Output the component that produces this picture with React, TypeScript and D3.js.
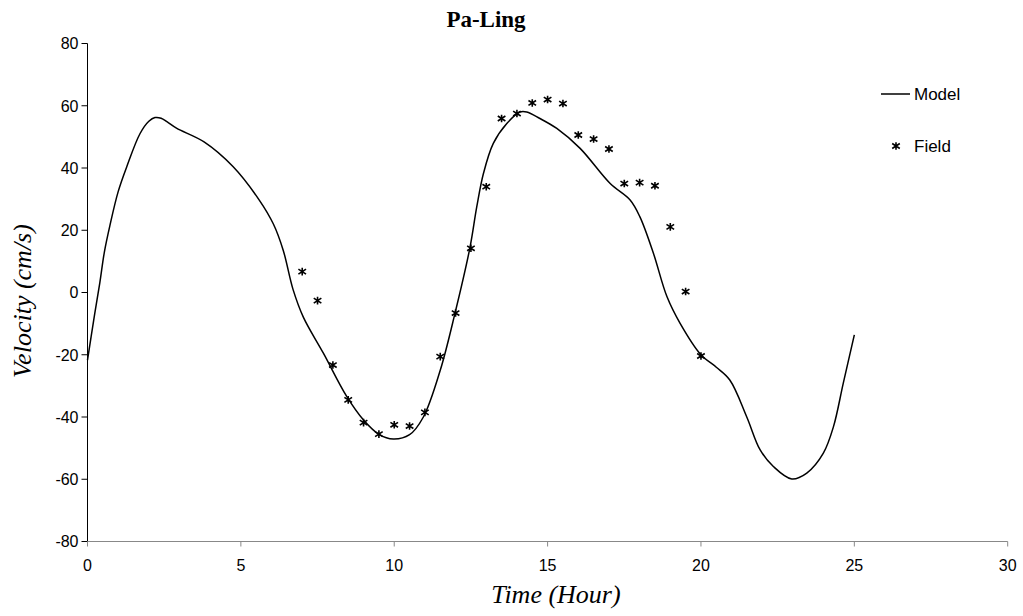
import React from "react";
import * as d3 from "d3";

const modelHours = [0, 0.2, 0.4, 0.55, 0.73, 1.0, 1.28, 1.71, 2.0, 2.2, 2.4, 2.6, 2.9, 3.8, 4.75, 5.6, 6.06, 6.38, 6.7, 7.04, 7.69, 8.45, 9.0, 9.5, 9.97, 10.5, 10.95, 11.5, 11.98, 12.47, 12.69, 12.91, 13.23, 13.67, 14.1, 14.32, 14.75, 15.3, 16.06, 17.04, 17.69, 18.01, 18.45, 18.89, 19.32, 20.0, 20.5, 20.94, 21.49, 21.93, 22.36, 22.96, 23.45, 23.99, 24.32, 24.64, 25.0];
const modelVelocity = [-21.7, -9, 3, 13, 21.5, 32.4, 40.4, 51, 55, 56.2, 56, 54.8, 52.8, 48.4, 40.4, 29.7, 22, 13.6, 1, -8, -19.5, -33.4, -41, -45.6, -47.1, -45.7, -40, -25, -6.7, 14.5, 27.5, 38.3, 47.9, 54.3, 58, 58, 55.9, 52.7, 46.3, 35, 29.7, 24.3, 12.6, -1.3, -9.9, -20, -24, -28.1, -39.9, -50.6, -55.9, -59.9, -58, -51.6, -43.1, -29.1, -13.6];

const fieldHours = [7, 7.5, 8, 8.5, 9, 9.5, 10, 10.5, 11, 11.5, 12, 12.5, 13, 13.5, 14, 14.5, 15, 15.5, 16, 16.5, 17, 17.5, 18, 18.5, 19, 19.5, 20];
const fieldVelocity = [6.7, -2.6, -23.3, -34.5, -41.8, -45.5, -42.5, -42.9, -38.5, -20.6, -6.6, 14.2, 34, 55.9, 57.5, 60.9, 62, 60.7, 50.6, 49.3, 46.1, 35, 35.3, 34.3, 21.1, 0.3, -20.4];

const xTicks = [0, 5, 10, 15, 20, 25, 30];
const yTicks = [-80, -60, -40, -20, 0, 20, 40, 60, 80];

const W = 1023;
const H = 616;
const left = 87.5;
const right = 1007.7;
const top = 43.5;
const bottom = 541.5;

function Star({ x, y, s = 3.8 }: { x: number; y: number; s?: number }) {
  return (
    <path
      d={`M${x - s},${y - s * 0.65}L${x + s},${y + s * 0.65}M${x - s},${y + s * 0.65}L${x + s},${y - s * 0.65}M${x},${y - s}L${x},${y + s}`}
      stroke="#000"
      strokeWidth={1.6}
      fill="none"
    />
  );
}

export default function App() {
  const x = d3.scaleLinear().domain([0, 30]).range([left, right]);
  const y = d3.scaleLinear().domain([-80, 80]).range([bottom, top]);
  const model = modelHours.map((h, i) => [h, modelVelocity[i]] as [number, number]);
  const line = d3
    .line<[number, number]>()
    .x((d) => x(d[0]))
    .y((d) => y(d[1]))
    .curve(d3.curveCatmullRom.alpha(0.5));

  return (
    <svg width={W} height={H} style={{ position: "absolute", left: 0, top: 0, background: "#fff" }}>
      <rect width={W} height={H} fill="#fff" />
      <text x={486} y={27} textAnchor="middle" fontFamily="'Liberation Serif', 'Times New Roman', serif" fontWeight="bold" fontSize={23}>
        Pa-Ling
      </text>
      {/* y axis */}
      <line x1={left} x2={left} y1={top} y2={bottom} stroke="#000" strokeWidth={1} />
      {yTicks.map((t) => (
        <g key={t}>
          <line x1={left - 6} x2={left} y1={y(t)} y2={y(t)} stroke="#000" strokeWidth={1} />
          <text x={left - 9} y={y(t)} dy="0.36em" textAnchor="end" fontFamily="'Liberation Sans', Arial, sans-serif" fontSize={16} fill="#000">
            {t}
          </text>
        </g>
      ))}
      {/* x axis */}
      <line x1={left} x2={right} y1={bottom} y2={bottom} stroke="#888" strokeWidth={1} />
      {xTicks.map((t) => (
        <g key={t}>
          <line x1={x(t)} x2={x(t)} y1={bottom} y2={bottom + 5} stroke="#888" strokeWidth={1} />
          <text x={x(t)} y={bottom + 29} textAnchor="middle" fontFamily="'Liberation Sans', Arial, sans-serif" fontSize={16} fill="#000">
            {t}
          </text>
        </g>
      ))}
      <path d={line(model) || ""} fill="none" stroke="#000" strokeWidth={1.5} />
      {fieldHours.map((h, i) => (
        <Star key={i} x={x(h)} y={y(fieldVelocity[i])} />
      ))}
      <text
        transform={`translate(31,301) rotate(-90)`}
        textAnchor="middle"
        fontFamily="'Liberation Serif', 'Times New Roman', serif"
        fontStyle="italic"
        fontSize={26}
      >
        Velocity (cm/s)
      </text>
      <text x={556} y={603} textAnchor="middle" fontFamily="'Liberation Serif', 'Times New Roman', serif" fontStyle="italic" fontSize={26}>
        Time (Hour)
      </text>
      {/* legend */}
      <line x1={881} x2={910} y1={94} y2={94} stroke="#000" strokeWidth={1.5} />
      <text x={914} y={94} dy="0.36em" fontFamily="'Liberation Sans', Arial, sans-serif" fontSize={17}>
        Model
      </text>
      <Star x={896} y={146} />
      <text x={914} y={146} dy="0.36em" fontFamily="'Liberation Sans', Arial, sans-serif" fontSize={17}>
        Field
      </text>
    </svg>
  );
}
